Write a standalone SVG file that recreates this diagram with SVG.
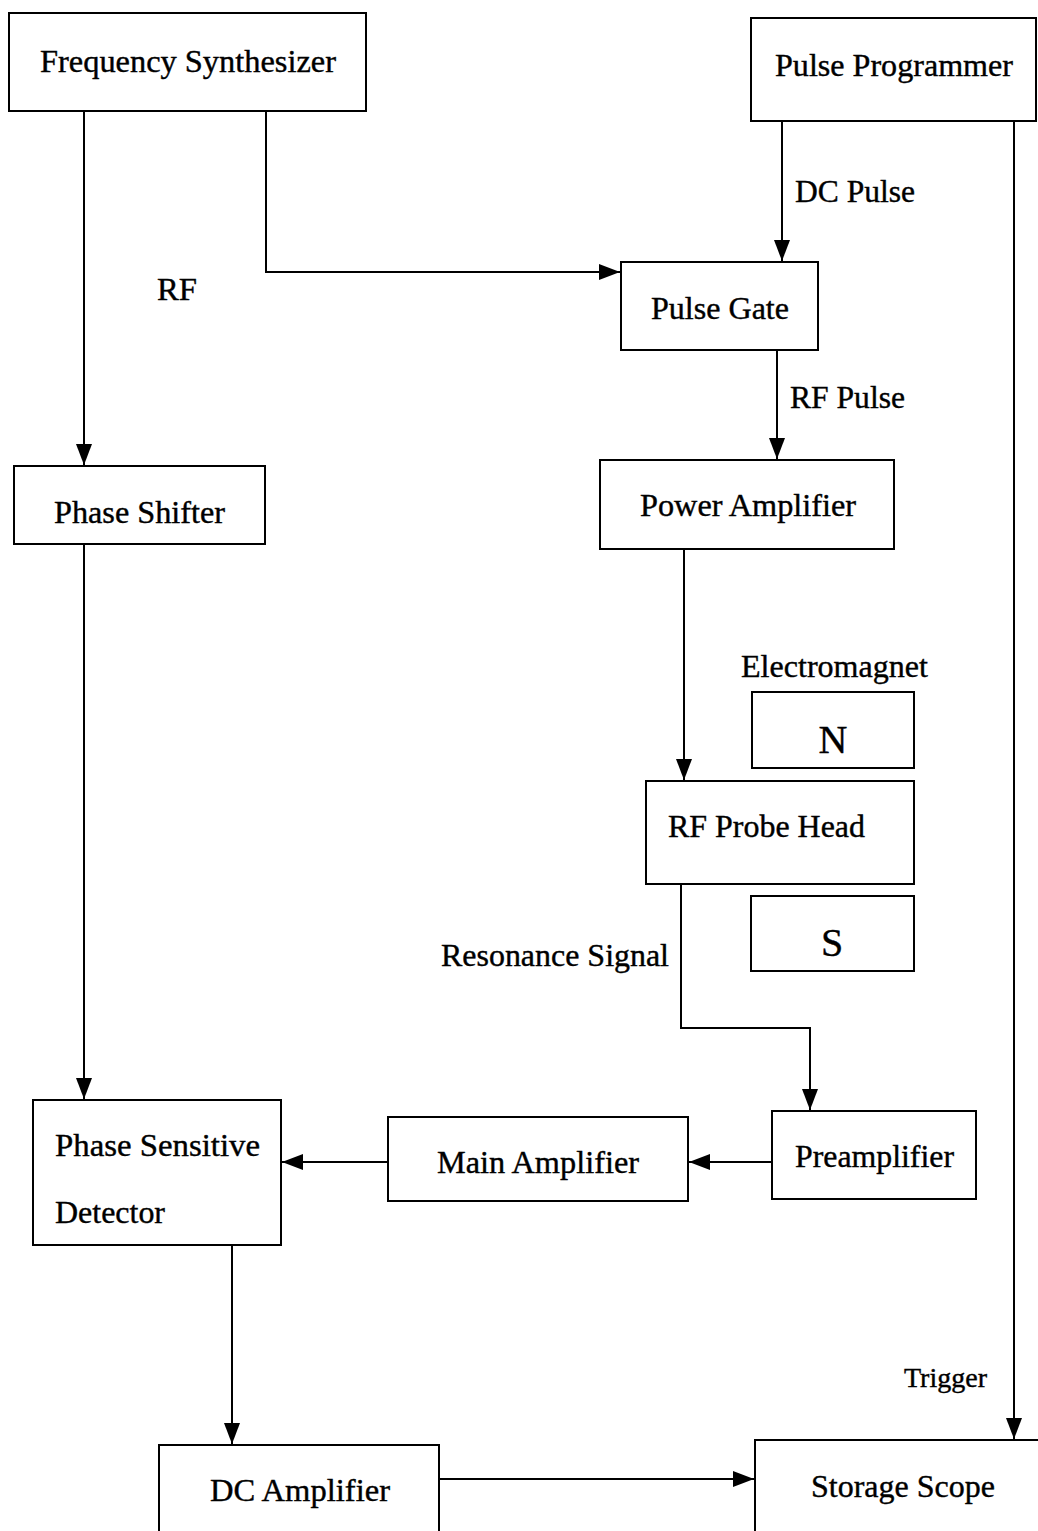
<svg xmlns="http://www.w3.org/2000/svg" width="1038" height="1531" viewBox="0 0 1038 1531">
<style>
.box{fill:#fff;stroke:#000;stroke-width:2}
.t{font-family:"Liberation Serif","Times New Roman",serif;font-size:32px;fill:#000;stroke:#000;stroke-width:0.4}
.c{fill:none;stroke:#000;stroke-width:2}
</style>
<defs>
<marker id="ah" markerWidth="21" markerHeight="16" refX="21" refY="8" orient="auto" markerUnits="userSpaceOnUse">
<path d="M0,0 L21,8 L0,16 Z" fill="#000"/>
</marker>
</defs>
<rect width="1038" height="1531" fill="#fff"/>
<g id="connectors">
<path class="c" d="M84,111 V465" marker-end="url(#ah)"/>
<path class="c" d="M266,111 V272 H620" marker-end="url(#ah)"/>
<path class="c" d="M782,121 V261" marker-end="url(#ah)"/>
<path class="c" d="M1014,121 V1439" marker-end="url(#ah)"/>
<path class="c" d="M777,350 V459" marker-end="url(#ah)"/>
<path class="c" d="M684,549 V780" marker-end="url(#ah)"/>
<path class="c" d="M681,884 V1028 H810 V1110" marker-end="url(#ah)"/>
<path class="c" d="M772,1162 H689" marker-end="url(#ah)"/>
<path class="c" d="M388,1162 H282" marker-end="url(#ah)"/>
<path class="c" d="M84,544 V1099" marker-end="url(#ah)"/>
<path class="c" d="M232,1245 V1444" marker-end="url(#ah)"/>
<path class="c" d="M439,1479 H754" marker-end="url(#ah)"/>
<text class="t" x="795" y="202" textLength="120" lengthAdjust="spacingAndGlyphs">DC Pulse</text>
<text class="t" x="157" y="300" textLength="40" lengthAdjust="spacingAndGlyphs">RF</text>
<text class="t" x="790" y="408" textLength="115" lengthAdjust="spacingAndGlyphs">RF Pulse</text>
<text class="t" x="441" y="966" textLength="228" lengthAdjust="spacingAndGlyphs">Resonance Signal</text>
<text class="t" x="904" y="1387" style="font-size:27px" textLength="83" lengthAdjust="spacingAndGlyphs">Trigger</text>
</g>
<g id="frequency-synthesizer">
<rect class="box" x="9" y="13" width="357" height="98"/>
<text class="t" x="40" y="72" textLength="296" lengthAdjust="spacingAndGlyphs">Frequency Synthesizer</text>
</g>
<g id="pulse-programmer">
<rect class="box" x="751" y="18" width="285" height="103"/>
<text class="t" x="775" y="76" textLength="238" lengthAdjust="spacingAndGlyphs">Pulse Programmer</text>
</g>
<g id="pulse-gate">
<rect class="box" x="621" y="262" width="197" height="88"/>
<text class="t" x="651" y="319" textLength="138" lengthAdjust="spacingAndGlyphs">Pulse Gate</text>
</g>
<g id="phase-shifter">
<rect class="box" x="14" y="466" width="251" height="78"/>
<text class="t" x="54" y="523" textLength="171" lengthAdjust="spacingAndGlyphs">Phase Shifter</text>
</g>
<g id="power-amplifier">
<rect class="box" x="600" y="460" width="294" height="89"/>
<text class="t" x="640" y="516" textLength="216" lengthAdjust="spacingAndGlyphs">Power Amplifier</text>
</g>
<g id="electromagnet">
<text class="t" x="741" y="677" textLength="187" lengthAdjust="spacingAndGlyphs">Electromagnet</text>
<rect class="box" x="752" y="692" width="162" height="76"/>
<text class="t" x="833" y="753" text-anchor="middle" style="font-size:40px">N</text>
<rect class="box" x="751" y="896" width="163" height="75"/>
<text class="t" x="832" y="956" text-anchor="middle" style="font-size:40px">S</text>
</g>
<g id="rf-probe-head">
<rect class="box" x="646" y="781" width="268" height="103"/>
<text class="t" x="668" y="837" textLength="197" lengthAdjust="spacingAndGlyphs">RF Probe Head</text>
</g>
<g id="preamplifier">
<rect class="box" x="772" y="1111" width="204" height="88"/>
<text class="t" x="795" y="1167" textLength="159" lengthAdjust="spacingAndGlyphs">Preamplifier</text>
</g>
<g id="main-amplifier">
<rect class="box" x="388" y="1117" width="300" height="84"/>
<text class="t" x="437" y="1173" textLength="202" lengthAdjust="spacingAndGlyphs">Main Amplifier</text>
</g>
<g id="phase-sensitive-detector">
<rect class="box" x="33" y="1100" width="248" height="145"/>
<text class="t" x="55" y="1156" textLength="205" lengthAdjust="spacingAndGlyphs">Phase Sensitive</text>
<text class="t" x="55" y="1223" textLength="110" lengthAdjust="spacingAndGlyphs">Detector</text>
</g>
<g id="dc-amplifier">
<path class="c" d="M159,1531 V1445 H439 V1531"/>
<text class="t" x="210" y="1501" textLength="180" lengthAdjust="spacingAndGlyphs">DC Amplifier</text>
</g>
<g id="storage-scope">
<path class="c" d="M755,1531 V1440 H1040"/>
<text class="t" x="811" y="1497" textLength="184" lengthAdjust="spacingAndGlyphs">Storage Scope</text>
</g>
</svg>
